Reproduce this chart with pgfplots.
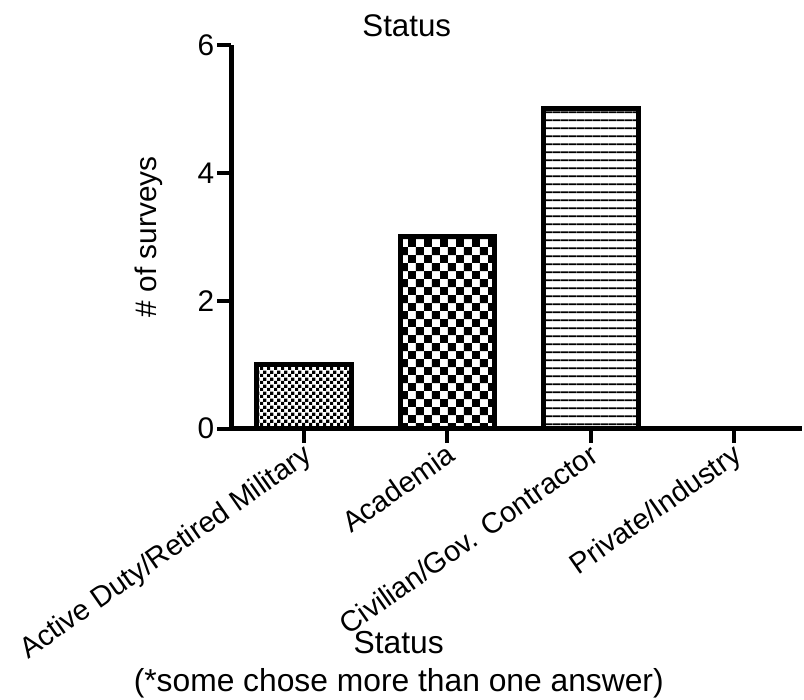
\documentclass[border=0pt]{standalone}
\usepackage{pgfplots}
\pgfplotsset{compat=1.18}
\usepackage{fontspec}
\setmainfont{Liberation Sans}
\usetikzlibrary{patterns}

\pgfdeclarepatternformonly{checkA}{\pgfpointorigin}{\pgfqpoint{6.7bp}{6.7bp}}{\pgfqpoint{6.7bp}{6.7bp}}{%
  \pgfpathrectangle{\pgfpointorigin}{\pgfqpoint{3.35bp}{3.35bp}}%
  \pgfpathrectangle{\pgfqpoint{3.35bp}{3.35bp}}{\pgfqpoint{3.35bp}{3.35bp}}%
  \pgfusepath{fill}}
\pgfdeclarepatternformonly{checkB}{\pgfpointorigin}{\pgfqpoint{16.4bp}{16.4bp}}{\pgfqpoint{16.4bp}{16.4bp}}{%
  \pgfpathrectangle{\pgfpointorigin}{\pgfqpoint{8.2bp}{8.2bp}}%
  \pgfpathrectangle{\pgfqpoint{8.2bp}{8.2bp}}{\pgfqpoint{8.2bp}{8.2bp}}%
  \pgfusepath{fill}}
\pgfdeclarepatternformonly{hlinesC}{\pgfpointorigin}{\pgfqpoint{8.3bp}{8.3bp}}{\pgfqpoint{8.3bp}{8.3bp}}{%
  \pgfpathrectangle{\pgfqpoint{0bp}{3.15bp}}{\pgfqpoint{8.3bp}{2bp}}%
  \pgfusepath{fill}}

\begin{document}
\begin{tikzpicture}
\begin{axis}[
  scale only axis,
  width=572bp, height=385bp,
  xmin=-0.508, xmax=3.47,
  ymin=0, ymax=6,
  axis x line*=bottom,
  axis y line*=left,
  axis line style={-, line width=5bp, black},
  font=\fontsize{30}{37}\selectfont,
  /pgf/number format/assume math mode=true,
  ytick={0,2,4,6},
  xtick={0,1,2,3},
  xticklabels={Active Duty/Retired Military, Academia, Civilian/Gov. Contractor, Private/Industry},
  tick align=outside,
  major tick length=14bp,
  every tick/.style={black, line width=4bp},
  xticklabel style={rotate=35, anchor=north east, inner sep=0pt, xshift=-2bp, yshift=2bp, font=\fontsize{29.2}{36}\selectfont},
  yticklabel style={anchor=east, inner sep=0pt, xshift=-3bp},
  title={Status},
  title style={at={(axis description cs:0.3077,1)}, anchor=base, inner sep=0pt, yshift=2bp, font=\fontsize{31.5}{37}\selectfont},
  xlabel={Status\\(*some chose more than one answer)},
  xlabel style={at={(axis description cs:0.2937,0)}, anchor=north, align=center, inner sep=0pt, yshift=-203bp, font=\fontsize{32}{38.5}\selectfont},
  ylabel={\# of surveys},
  ylabel style={at={(axis description cs:0,0.5)}, anchor=base, inner sep=0pt, yshift=75bp},
  ybar, bar width=95bp, bar shift=0pt,
  axis on top,
  clip=false,
]
\addplot[draw=black, line width=5bp, pattern=checkA] coordinates {(0,1)};
\addplot[draw=black, line width=5bp, pattern=checkB] coordinates {(1,3)};
\addplot[draw=black, line width=5bp, pattern=hlinesC] coordinates {(2,5)};
\addplot[draw=black, line width=5bp, fill=white] coordinates {(3,0)};
\end{axis}
\path[use as bounding box] (-232bp,-272bp) rectangle (572bp,430bp);
\end{tikzpicture}
\end{document}
